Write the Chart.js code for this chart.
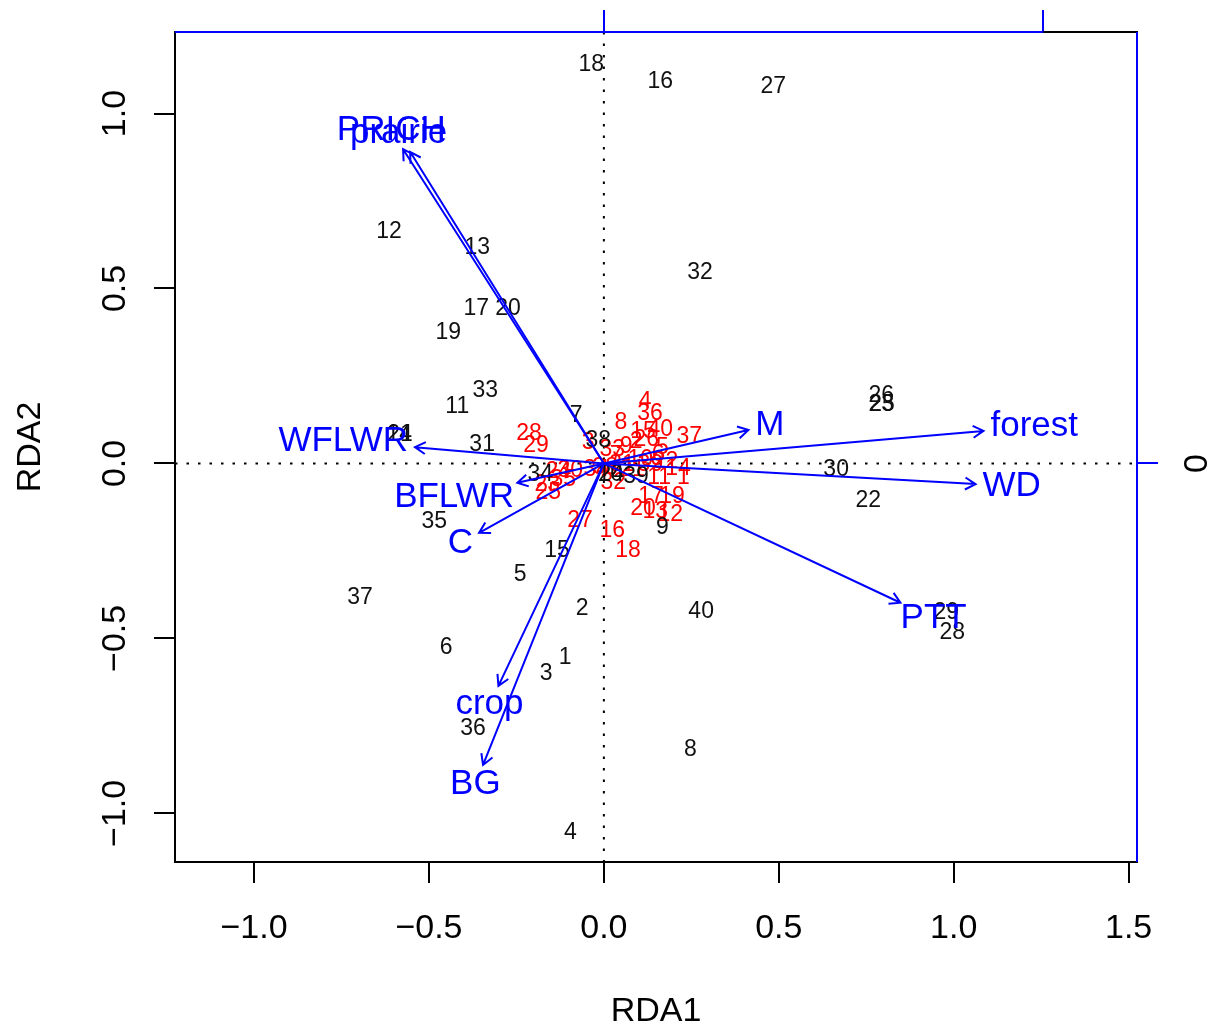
<!DOCTYPE html>
<html>
<head>
<meta charset="utf-8">
<title>RDA triplot</title>
<script src="https://cdn.jsdelivr.net/npm/chart.js@4.4.0/dist/chart.umd.min.js"></script>
<style>
  html, body { margin: 0; padding: 0; background: #fff; }
</style>
</head>
<body>
<canvas id="rda" width="1213" height="1032"></canvas>
<script>
// Site scores (black labels)
const siteIds = [1, 2, 3, 4, 5, 6, 7, 8, 9, 10, 11, 12, 13, 14, 15, 16, 17, 18, 19, 20,
                 21, 22, 23, 24, 25, 26, 27, 28, 29, 30, 31, 32, 33, 34, 35, 36, 37, 38, 39, 40];
const siteX = [-0.111, -0.062, -0.165, -0.096, -0.239, -0.451, -0.079, 0.247, 0.167, 0.018,
               -0.419, -0.614, -0.362, -0.585, -0.134, 0.161, -0.365, -0.036, -0.445, -0.274,
               -0.583, 0.756, 0.793, 0.021, 0.795, 0.793, 0.484, 0.996, 0.979, 0.664,
               -0.348, 0.275, -0.339, -0.182, -0.485, -0.374, -0.697, -0.016, 0.092, 0.278];
const siteY = [-0.556, -0.416, -0.601, -1.056, -0.319, -0.527, 0.136, -0.819, -0.184, -0.033,
               0.161, 0.661, 0.616, 0.081, -0.250, 1.090, 0.441, 1.139, 0.373, 0.441,
               0.083, -0.107, 0.167, -0.031, 0.169, 0.193, 1.076, -0.484, -0.427, -0.019,
               0.053, 0.544, 0.207, -0.033, -0.167, -0.759, -0.384, 0.064, -0.039, -0.424];

// Species scores (red labels)
const sppIds = [1, 2, 3, 4, 5, 6, 7, 8, 9, 10, 11, 12, 13, 14, 15, 16, 17, 18, 19, 20,
                21, 22, 23, 24, 25, 26, 27, 28, 29, 30, 31, 32, 33, 34, 35, 36, 37, 38, 39, 40];
const sppX = [0.227, 0.092, -0.045, 0.118, 0.167, 0.155, 0.035, 0.049, 0.064, 0.104,
              0.158, 0.190, 0.147, 0.212, 0.112, 0.024, 0.135, 0.069, 0.195, 0.112,
              0.081, 0.176, -0.162, -0.130, -0.159, 0.121, -0.068, -0.214, -0.194, -0.096,
              0.052, 0.027, 0.024, -0.022, -0.116, 0.132, 0.244, 0.004, 0.133, 0.161];
const sppY = [-0.041, 0.061, 0.058, 0.176, 0.044, 0.024, 0.021, 0.116, 0.047, 0.010,
              -0.041, -0.147, -0.139, -0.016, 0.090, -0.193, -0.096, -0.250, -0.096, -0.130,
              -0.019, 0.004, -0.061, -0.024, -0.084, 0.067, -0.164, 0.084, 0.050, -0.021,
              -0.004, -0.056, 0.039, -0.019, -0.047, 0.141, 0.076, -0.013, -0.004, 0.096];

// Environmental variables (biplot scores, arrow units)
const envNames = ['PRICH', 'prairie', 'WFLWR', 'BFLWR', 'C', 'crop', 'BG', 'M', 'forest', 'WD', 'PTT'];
const envX = [-0.457, -0.441, -0.430, -0.197, -0.284, -0.240, -0.275, 0.329, 0.864, 0.846, 0.675];
const envY = [0.715, 0.709, 0.037, -0.044, -0.158, -0.506, -0.686, 0.076, 0.074, -0.047, -0.317];
const arrowMul = 1.256;   // plot units per arrow unit

// Axes
const xLimits = [-1.226, 1.524];
const yLimits = [-1.139, 1.233];
const xTicks = [-1.0, -0.5, 0.0, 0.5, 1.0, 1.5];
const yTicks = [-1.0, -0.5, 0.0, 0.5, 1.0];
const arrowXTicks = [0, 1];
const arrowYTicks = [0];

const FONT = "'Liberation Sans', Arial, Helvetica, sans-serif";
const BLUE = '#0000ff';

const fmt = v => (v < 0 ? '\u2212' : '') + Math.abs(v).toFixed(1);
const toPoints = (xs, ys) => xs.map((x, i) => ({ x: x, y: ys[i] }));
const setTicks = vals => scale => { scale.ticks = vals.map(v => ({ value: v })); };

// fixed axis box sizes, no extra label overhang padding
const fixSize = (w, h) => scale => {
  if (w !== null) scale.width = w;
  if (h !== null) scale.height = h;
  scale.paddingTop = scale.paddingBottom = scale.paddingLeft = scale.paddingRight = 0;
};

function drawArrow(ctx, x0, y0, x1, y1) {
  const ang = Math.atan2(y1 - y0, x1 - x0);
  const len = 12, spread = Math.PI / 6;
  ctx.beginPath();
  ctx.moveTo(x0, y0);
  ctx.lineTo(x1, y1);
  ctx.moveTo(x1 - len * Math.cos(ang - spread), y1 - len * Math.sin(ang - spread));
  ctx.lineTo(x1, y1);
  ctx.lineTo(x1 - len * Math.cos(ang + spread), y1 - len * Math.sin(ang + spread));
  ctx.stroke();
}

const triplot = {
  id: 'triplot',
  beforeDatasetsDraw(chart) {
    const { ctx, chartArea: a, scales } = chart;
    const x0 = scales.x.getPixelForValue(0);
    const y0 = scales.y.getPixelForValue(0);
    ctx.save();
    ctx.strokeStyle = '#000';
    ctx.lineWidth = 2;
    ctx.setLineDash([2.5, 9]);
    ctx.beginPath();
    ctx.moveTo(a.left, y0); ctx.lineTo(a.right, y0);
    ctx.moveTo(x0, a.top); ctx.lineTo(x0, a.bottom);
    ctx.stroke();
    ctx.restore();
  },
  afterDatasetsDraw(chart) {
    const { ctx, scales } = chart;
    ctx.save();
    ctx.textAlign = 'center';
    ctx.textBaseline = 'middle';

    // species first, sites on top
    [[1, sppIds, '#ff0000'], [0, siteIds, '#111']].forEach(([idx, ids, col]) => {
      ctx.font = '23px ' + FONT;
      ctx.fillStyle = col;
      chart.getDatasetMeta(idx).data.forEach((pt, i) => {
        ctx.fillText(String(ids[i]), pt.x, pt.y);
      });
    });

    // environmental arrows
    const ox = scales.x2.getPixelForValue(0);
    const oy = scales.y2.getPixelForValue(0);
    ctx.strokeStyle = BLUE;
    ctx.fillStyle = BLUE;
    ctx.lineWidth = 2;
    ctx.font = '35px ' + FONT;
    chart.getDatasetMeta(2).data.forEach((pt, i) => {
      drawArrow(ctx, ox, oy, pt.x, pt.y);
      const w = ctx.measureText(envNames[i]).width;
      const h = 0.72 * 35;
      const dx = pt.x - ox, dy = pt.y - oy, d = Math.hypot(dx, dy);
      const ux = dx / d, uy = dy / d;
      const tx = Math.abs(ux) > 1e-6 ? (w / 2) / Math.abs(ux) : Infinity;
      const ty = Math.abs(uy) > 1e-6 ? (h / 2) / Math.abs(uy) : Infinity;
      const t = Math.min(tx, ty) + 7;
      ctx.fillText(envNames[i], pt.x + ux * t, pt.y + uy * t);
    });
    ctx.restore();
  },
  afterDraw(chart) {
    const { ctx, chartArea: a, scales } = chart;
    const xEnd = scales.x2.getPixelForValue(arrowXTicks[arrowXTicks.length - 1]);
    ctx.save();
    ctx.lineWidth = 2;
    ctx.strokeStyle = '#000';
    ctx.strokeRect(a.left, a.top, a.right - a.left, a.bottom - a.top);
    ctx.strokeStyle = BLUE;
    ctx.beginPath();
    ctx.moveTo(a.left, a.top); ctx.lineTo(xEnd, a.top);
    ctx.moveTo(a.right, a.top); ctx.lineTo(a.right, a.bottom);
    ctx.stroke();
    ctx.restore();
  }
};

const tickFont = { family: FONT, size: 34 };

new Chart(document.getElementById('rda'), {
  type: 'scatter',
  data: {
    datasets: [
      { label: 'sites', data: toPoints(siteX, siteY), pointRadius: 0, xAxisID: 'x', yAxisID: 'y' },
      { label: 'species', data: toPoints(sppX, sppY), pointRadius: 0, xAxisID: 'x', yAxisID: 'y' },
      { label: 'biplot', data: toPoints(envX, envY), pointRadius: 0, xAxisID: 'x2', yAxisID: 'y2' }
    ]
  },
  options: {
    responsive: false,
    animation: false,
    events: [],
    layout: { padding: 0 },
    plugins: { legend: { display: false }, tooltip: { enabled: false } },
    scales: {
      x: {
        type: 'linear', position: 'bottom', min: xLimits[0], max: xLimits[1],
        afterBuildTicks: setTicks(xTicks),
        afterFit: fixSize(null, 170),
        grid: { drawOnChartArea: false, tickLength: 21, color: '#000', lineWidth: 2 },
        border: { display: false },
        ticks: { font: tickFont, color: '#000', padding: 25, maxRotation: 0, autoSkip: false, callback: fmt },
        title: { display: true, text: 'RDA1', font: tickFont, color: '#000', padding: { top: 0, bottom: 0 } }
      },
      y: {
        type: 'linear', position: 'left', min: yLimits[0], max: yLimits[1],
        afterBuildTicks: setTicks(yTicks),
        afterFit: fixSize(175, null),
        grid: { drawOnChartArea: false, tickLength: 21, color: '#000', lineWidth: 2 },
        border: { display: false },
        ticks: { font: tickFont, color: '#000', padding: 5, minRotation: 90, maxRotation: 90,
                 crossAlign: 'center', autoSkip: false, callback: fmt },
        title: { display: true, text: 'RDA2', font: tickFont, color: '#000', padding: { top: 10, bottom: 0 } }
      },
      x2: {
        type: 'linear', position: 'top', min: xLimits[0] / arrowMul, max: xLimits[1] / arrowMul,
        afterBuildTicks: setTicks(arrowXTicks),
        afterFit: fixSize(null, 32),
        grid: { drawOnChartArea: false, tickLength: 22, color: BLUE, lineWidth: 2 },
        border: { display: false },
        ticks: { display: false }
      },
      y2: {
        type: 'linear', position: 'right', min: yLimits[0] / arrowMul, max: yLimits[1] / arrowMul,
        afterBuildTicks: setTicks(arrowYTicks),
        afterFit: fixSize(76, null),
        grid: { drawOnChartArea: false, tickLength: 21, color: BLUE, lineWidth: 2 },
        border: { display: false },
        ticks: { font: tickFont, color: '#000', padding: 30, minRotation: 90, maxRotation: 90,
                 crossAlign: 'center', autoSkip: false, callback: v => String(v) }
      }
    }
  },
  plugins: [triplot]
});
</script>
</body>
</html>
